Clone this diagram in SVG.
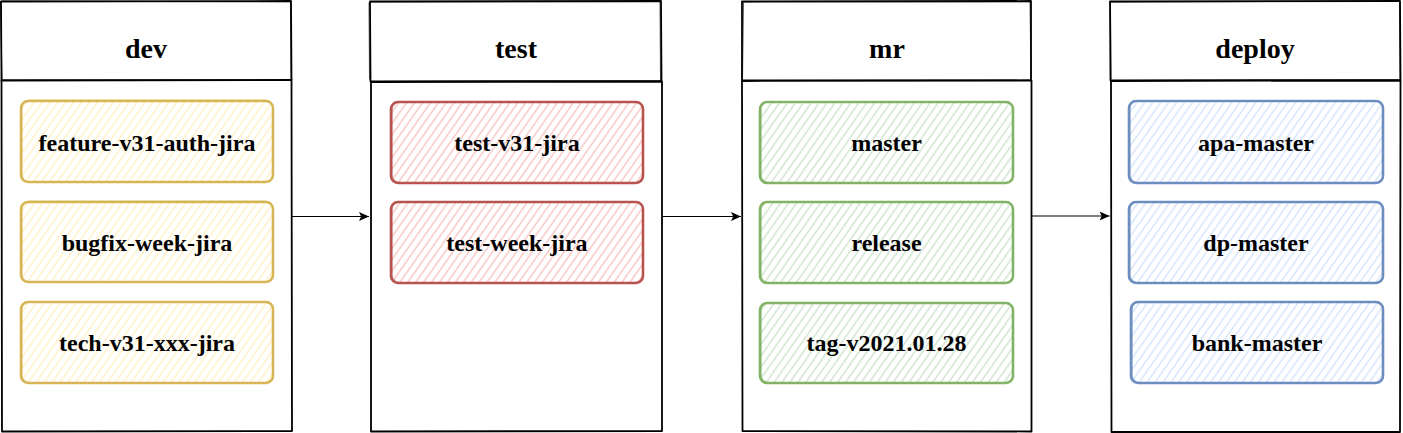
<svg xmlns="http://www.w3.org/2000/svg" width="1403" height="433" viewBox="0 0 1403 433">
<style>
.lane{fill:#ffffff;stroke:#000000;stroke-width:1.8;stroke-linejoin:round;stroke-linecap:round}
.lane2{fill:none;stroke:#000000;stroke-width:0.8;stroke-linecap:round;opacity:0.8}
.hd{font-family:"Liberation Serif","Times New Roman",serif;font-weight:bold;font-size:28px;text-anchor:middle;fill:#000}
.lb{font-family:"Liberation Serif","Times New Roman",serif;font-weight:bold;font-size:24px;text-anchor:middle;fill:#000}
.n{stroke-width:2.6;stroke-linejoin:round}
.n2{fill:none;stroke-width:1;opacity:0.7}
.y{stroke:#d6b656}.r{stroke:#b85450}.g{stroke:#82b366}.b{stroke:#6c8ebf}
.conn{stroke:#000;stroke-width:1.2;fill:none}
</style>
<defs>
<pattern id="hy" patternUnits="userSpaceOnUse" width="6.5" height="10" patternTransform="rotate(35)"><line x1="2" y1="0" x2="2" y2="10" stroke="#fff2cc" stroke-width="1.7"/></pattern>
<pattern id="hr" patternUnits="userSpaceOnUse" width="6.5" height="10" patternTransform="rotate(35)"><line x1="2" y1="0" x2="2" y2="10" stroke="#f8cecc" stroke-width="1.7"/></pattern>
<pattern id="hg" patternUnits="userSpaceOnUse" width="6.5" height="10" patternTransform="rotate(35)"><line x1="2" y1="0" x2="2" y2="10" stroke="#d5e8d4" stroke-width="1.7"/></pattern>
<pattern id="hb" patternUnits="userSpaceOnUse" width="6.5" height="10" patternTransform="rotate(35)"><line x1="2" y1="0" x2="2" y2="10" stroke="#dae8fc" stroke-width="1.7"/></pattern>
<marker id="ah" markerWidth="11" markerHeight="11" refX="10" refY="5.5" orient="auto" markerUnits="userSpaceOnUse"><path d="M0,1 L10,5.5 L0,10 L2.2,5.5 Z" fill="#000"/></marker>
</defs>

<g id="lane-dev">
<path class="lane" d="M1,1.5 L291,1 L291.5,80 L1.5,80.5 Z"/>
<path class="lane" d="M1.5,80.5 L291.5,80 L292,431 L2,431.5 Z"/>
<path class="lane2" d="M2,1 L290,2 M0.5,2 L2,79 M290.5,3 L291,78"/>
<text class="hd" x="146" y="58">dev</text>
</g>
<g id="lane-test">
<path class="lane" d="M370,1.5 L661,1 L661.5,81 L370.5,81.5 Z"/>
<path class="lane" d="M371,82 L662,81.5 L662,431 L371,431.5 Z"/>
<path class="lane2" d="M371,2 L660,1.5 M369,3 L369.5,79 M660,2 L660.5,80"/>
<text class="hd" x="516" y="58">test</text>
</g>
<g id="lane-mr">
<path class="lane" d="M742,1.5 L1031,1 L1031,80.5 L742,80.5 Z"/>
<path class="lane" d="M742,81 L1031.5,80.5 L1031.5,431.5 L742.5,431 Z"/>
<path class="lane2" d="M743,2 L1030,2 M743.5,3 L742.5,79 M1030,2 L1031,79"/>
<text class="hd" x="887" y="58">mr</text>
</g>
<g id="lane-deploy">
<path class="lane" d="M1110,1.5 L1400,1 L1400.5,80 L1110.5,80.5 Z"/>
<path class="lane" d="M1111,81 L1400.5,80.5 L1400,432 L1111.5,432 Z"/>
<path class="lane2" d="M1111,2 L1399,1.5 M1110.5,3 L1111,79 M1399.5,2 L1400,79"/>
<text class="hd" x="1255" y="58">deploy</text>
</g>

<g id="n-feature">
<rect class="n y" x="21" y="101" width="252" height="81" rx="7" fill="url(#hy)"/>
<rect class="n2 y" x="22" y="100" width="251" height="82" rx="8"/>
<text class="lb" x="147" y="150.5">feature-v31-auth-jira</text>
</g>
<g id="n-bugfix">
<rect class="n y" x="21" y="202" width="252" height="80" rx="7" fill="url(#hy)"/>
<rect class="n2 y" x="22" y="201" width="251" height="81" rx="8"/>
<text class="lb" x="147" y="250.5">bugfix-week-jira</text>
</g>
<g id="n-tech">
<rect class="n y" x="21" y="302" width="252" height="81" rx="7" fill="url(#hy)"/>
<rect class="n2 y" x="22" y="301.5" width="251" height="81" rx="8"/>
<text class="lb" x="147" y="350.5">tech-v31-xxx-jira</text>
</g>

<g id="n-test-v31">
<rect class="n r" x="391" y="102" width="252" height="81" rx="7" fill="url(#hr)"/>
<rect class="n2 r" x="392" y="101.5" width="251" height="81" rx="8"/>
<text class="lb" x="517" y="150.5">test-v31-jira</text>
</g>
<g id="n-test-week">
<rect class="n r" x="391" y="202" width="252" height="81" rx="7" fill="url(#hr)"/>
<rect class="n2 r" x="392" y="201.5" width="251" height="81" rx="8"/>
<text class="lb" x="517" y="251">test-week-jira</text>
</g>

<g id="n-master">
<rect class="n g" x="760" y="102" width="253" height="81" rx="7" fill="url(#hg)"/>
<rect class="n2 g" x="761" y="101.5" width="252" height="81" rx="8"/>
<text class="lb" x="886.5" y="150.5">master</text>
</g>
<g id="n-release">
<rect class="n g" x="760" y="202" width="253" height="81" rx="7" fill="url(#hg)"/>
<rect class="n2 g" x="761" y="201.5" width="252" height="81" rx="8"/>
<text class="lb" x="886.5" y="250.5">release</text>
</g>
<g id="n-tag">
<rect class="n g" x="760" y="303" width="253" height="80" rx="7" fill="url(#hg)"/>
<rect class="n2 g" x="761" y="302.5" width="252" height="80" rx="8"/>
<text class="lb" x="886.5" y="351">tag-v2021.01.28</text>
</g>

<g id="n-apa">
<rect class="n b" x="1129" y="101" width="254" height="82" rx="7" fill="url(#hb)"/>
<rect class="n2 b" x="1130" y="100.5" width="253" height="82" rx="8"/>
<text class="lb" x="1256" y="150.5">apa-master</text>
</g>
<g id="n-dp">
<rect class="n b" x="1129" y="202" width="254" height="81" rx="7" fill="url(#hb)"/>
<rect class="n2 b" x="1130" y="201.5" width="253" height="81" rx="8"/>
<text class="lb" x="1256" y="251">dp-master</text>
</g>
<g id="n-bank">
<rect class="n b" x="1131" y="302" width="252" height="81" rx="7" fill="url(#hb)"/>
<rect class="n2 b" x="1132" y="301.5" width="251" height="81" rx="8"/>
<text class="lb" x="1257" y="351">bank-master</text>
</g>

<g id="connectors">
<path class="conn" d="M292,216.5 L369,216.5" marker-end="url(#ah)"/>
<path class="conn" d="M662,216.5 L741,216.5" marker-end="url(#ah)"/>
<path class="conn" d="M1031.5,216 L1109.5,216" marker-end="url(#ah)"/>
</g>
</svg>
